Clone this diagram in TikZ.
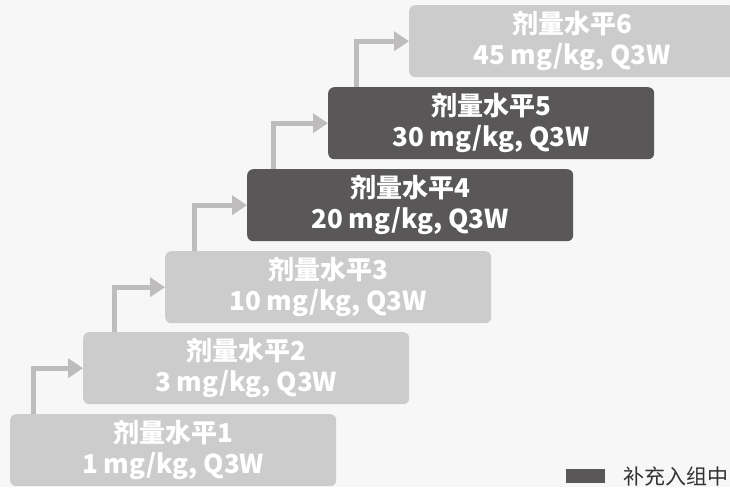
\documentclass[tikz,border=0pt]{standalone}
\usepackage{fontspec}
\setmainfont{Noto Sans CJK SC}
\usetikzlibrary{arrows.meta}
\definecolor{bgc}{HTML}{F7F7F7}
\definecolor{lightbox}{HTML}{CCCCCC}
\definecolor{darkbox}{HTML}{595758}
\definecolor{arrowc}{HTML}{BFBCBD}
\definecolor{legtext}{HTML}{333333}
\tikzset{
  dosebox/.style={rectangle, rounded corners=6pt, minimum width=326pt, minimum height=72pt,
    inner sep=0pt, text=white, font=\bfseries\fontsize{26}{31}\selectfont, align=center, anchor=north west},
  lightb/.style={dosebox, fill=lightbox},
  darkb/.style={dosebox, fill=darkbox},
  stepar/.style={draw=arrowc, line width=5pt, -{Triangle[length=15pt,width=19pt]}},
}
\begin{document}
\begin{tikzpicture}[x=1pt,y=-1pt]
\fill[bgc] (0,0) rectangle (730,487);
\useasboundingbox (0,0) rectangle (730,487);
\node[lightb] (b1) at (10,414) {剂量水平1\\1 mg/kg, Q3W};
\node[lightb] (b2) at (83,332) {剂量水平2\\3 mg/kg, Q3W};
\node[lightb] (b3) at (165,251) {剂量水平3\\10 mg/kg, Q3W};
\node[darkb] (b4) at (247,169) {剂量水平4\\20 mg/kg, Q3W};
\node[darkb] (b5) at (328,87) {剂量水平5\\30 mg/kg, Q3W};
\node[lightb] (b6) at (409,5) {剂量水平6\\45 mg/kg, Q3W};
\draw[stepar] ([xshift=23pt]b1.north west) |- (b2.west);
\draw[stepar] ([xshift=31pt]b2.north west) |- (b3.west);
\draw[stepar] ([xshift=29pt]b3.north west) |- (b4.west);
\draw[stepar] ([xshift=26pt]b4.north west) |- (b5.west);
\draw[stepar] ([xshift=28pt]b5.north west) |- (b6.west);
\node[fill=darkbox, minimum width=39pt, minimum height=14pt, inner sep=0pt, anchor=north west] (leg) at (566,469) {};
\node[anchor=west, inner sep=0pt, text=legtext, font=\fontsize{21}{24}\selectfont] (legt) at (623,476) {补充入组中};
\end{tikzpicture}
\end{document}
